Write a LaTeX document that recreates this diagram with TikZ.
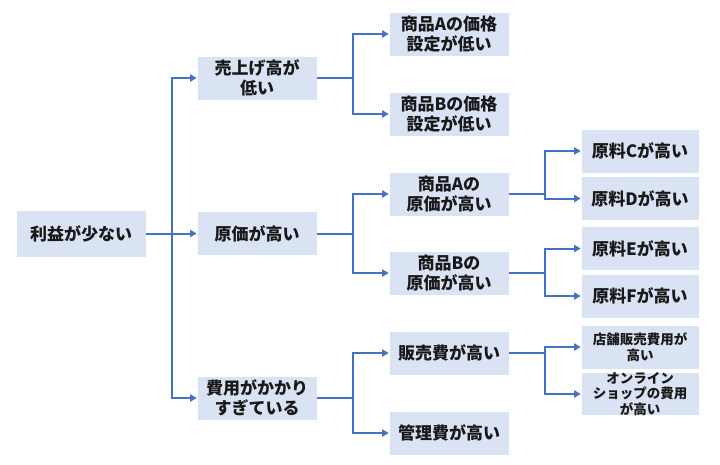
\documentclass[tikz,border=0pt]{standalone}
\usepackage{fontspec}
\setmainfont{Noto Sans CJK JP}
\usetikzlibrary{arrows.meta}
\definecolor{boxfill}{HTML}{DAE3F3}
\definecolor{linec}{HTML}{4472C4}
\tikzset{
  box/.style={fill=boxfill, draw=white, line width=0.6pt, inner sep=0pt, align=center,
    font=\fontsize{17}{20}\selectfont\bfseries, minimum height=44pt, text=black!90},
  rootbox/.style={box, minimum width=130pt, minimum height=47pt},
  lvbox/.style={box, minimum width=120pt},
  leafbox/.style={box, minimum width=118pt},
  smallbox/.style={leafbox, font=\fontsize{13.5}{15.5}\selectfont\bfseries},
  conn/.style={draw=linec, line width=2pt},
  arr/.style={conn, -{Triangle[length=6.5pt,width=7pt]}}
}
\begin{document}
\begin{tikzpicture}[x=1pt,y=-1pt]
\useasboundingbox (0,0) rectangle (720,464);
% root
\node[rootbox] (root) at (81,233.5) {利益が少ない};
% level 1
\node[lvbox] (sales) at (257,78) {売上げ高が\\低い};
\node[lvbox] (cost) at (257,233.5) {原価が高い};
\node[lvbox] (exp) at (257,398) {費用がかかり\\すぎている};
% level 2
\node[lvbox] (pa) at (449,34) {商品Aの価格\\設定が低い};
\node[lvbox] (pb) at (449,114) {商品Bの価格\\設定が低い};
\node[lvbox] (ca) at (449,194) {商品Aの\\原価が高い};
\node[lvbox] (cb) at (449,273) {商品Bの\\原価が高い};
\node[lvbox] (se) at (449,353) {販売費が高い};
\node[lvbox] (ad) at (449,433) {管理費が高い};
% level 3
\node[leafbox] (mc) at (640,151) {原料Cが高い};
\node[leafbox] (md) at (640,198.5) {原料Dが高い};
\node[leafbox] (me) at (640,248.5) {原料Eが高い};
\node[leafbox] (mf) at (640,296) {原料Fが高い};
\node[smallbox] (st) at (640,347) {店舗販売費用が\\高い};
\node[smallbox, minimum height=43pt] (on) at (640,394) {オンライン\\ショップの費用\\が高い};
% junctions
\coordinate (j0) at (172,233.5);
\coordinate (j1) at (353,78);
\coordinate (j2) at (353,233.5);
\coordinate (j3) at (353,398);
\coordinate (j4) at (545,194);
\coordinate (j5) at (545,273);
\coordinate (j6) at (545,353);
% connectors
\draw[conn] (root.east) -- (j0);
\draw[arr] (j0) |- (sales.west);
\draw[arr] (j0) -- (cost.west);
\draw[arr] (j0) |- (exp.west);
\draw[conn] (sales.east) -- (j1);
\draw[arr] (j1) |- (pa.west);
\draw[arr] (j1) |- (pb.west);
\draw[conn] (cost.east) -- (j2);
\draw[arr] (j2) |- (ca.west);
\draw[arr] (j2) |- (cb.west);
\draw[conn] (exp.east) -- (j3);
\draw[arr] (j3) |- (se.west);
\draw[arr] (j3) |- (ad.west);
\draw[conn] (ca.east) -- (j4);
\draw[arr] (j4) |- (mc.west);
\draw[arr] (j4) |- (md.west);
\draw[conn] (cb.east) -- (j5);
\draw[arr] (j5) |- (me.west);
\draw[arr] (j5) |- (mf.west);
\draw[conn] (se.east) -- (j6);
\draw[arr] (j6) |- (st.west);
\draw[arr] (j6) |- (on.west);
\end{tikzpicture}
\end{document}
